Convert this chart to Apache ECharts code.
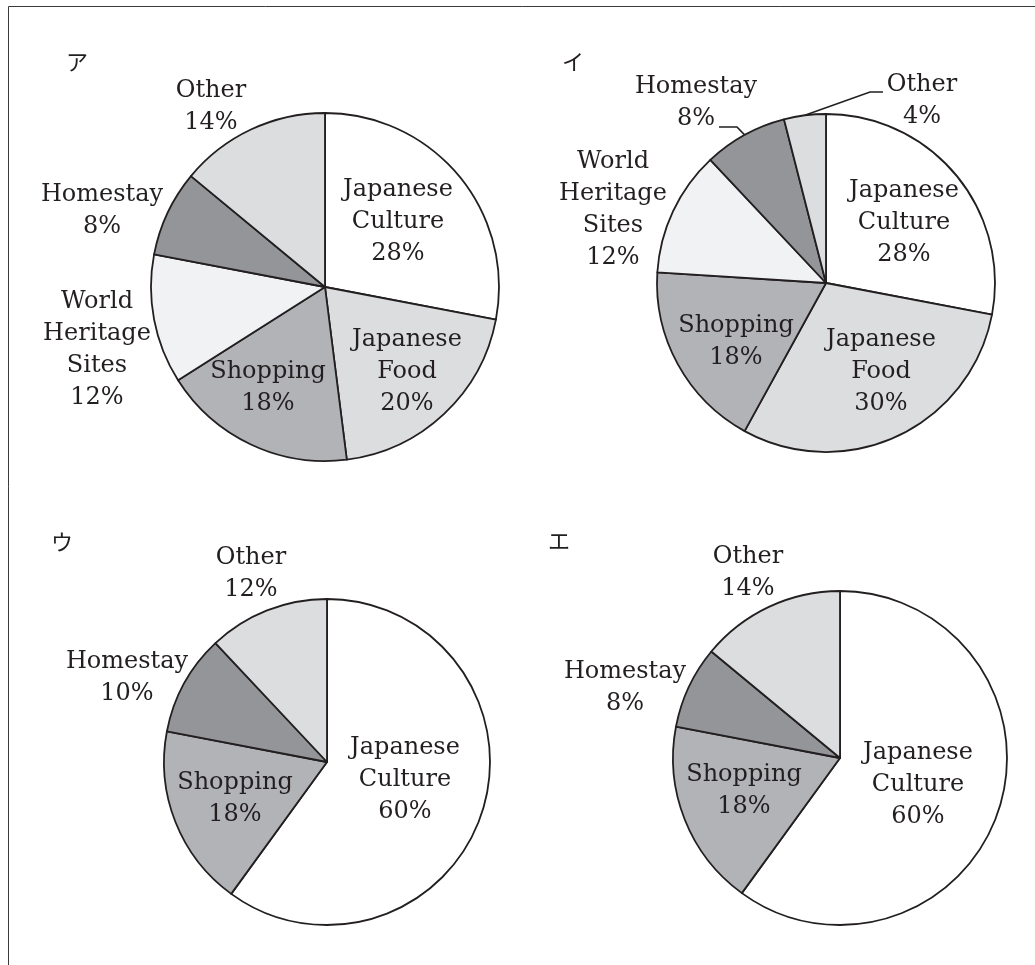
<!DOCTYPE html>
<html>
<head>
<meta charset="utf-8">
<script src="https://cdn.jsdelivr.net/npm/echarts@6/dist/echarts.min.js"></script>
<style>
html,body{margin:0;padding:0;background:#fff;}
#chart{width:1035px;height:965px;}
</style>
</head>
<body>
<div id="chart"></div>
<script>
// ---- data ----
const categories = ['Japanese Culture', 'Japanese Food', 'Shopping', 'World Heritage Sites', 'Homestay', 'Other'];
const panelTitles = ['ア', 'イ', 'ウ', 'エ'];
const valuesA = [28, 20, 18, 12, 8, 14];
const valuesI = [28, 30, 18, 12, 8, 4];
const valuesU = [60, null, 18, null, 10, 12];
const valuesE = [60, null, 18, null, 8, 14];
const panelValues = [valuesA, valuesI, valuesU, valuesE];

// ---- layout / style ----
const sliceColors = ['#ffffff', '#dcdddf', '#b2b3b6', '#f1f2f4', '#939598', '#dcdddf'];
const panelCenters = [[325, 287], [826, 283], [327, 762], [840, 758]];
const panelRadii = [174, 169, 163, 167];
const titlePos = [[77, 62], [573, 62], [62, 542], [559, 541]];
// label centre offsets from pie centre, per category index
const labelOffsets = [
  {0: [73, -65], 1: [82, 85], 2: [-57, 101], 3: [-228, 63], 4: [-223, -76], 5: [-114, -180]},
  {0: [78, -60], 1: [55, 89], 2: [-90, 59], 3: [-213, -73], 4: [-130, -180], 5: [96, -182]},
  {0: [78, 18], 2: [-92, 37], 4: [-200, -84], 5: [-76, -188]},
  {0: [78, 27], 2: [-96, 33], 4: [-215, -70], 5: [-92, -185]}
];
const insideCats = [[0, 1, 2], [0, 1, 2], [0, 2], [0, 2]];
// leader lines (panel イ): elbow and end point, as offsets from the label centre
const leaders = {1: {4: [[41, 24], [23, 24]], 5: [[-52, -9], [-39, -9]]}};

const INK = '#231f20';
const FONT = '"DejaVu Serif", "Liberation Serif", serif';

const series = panelValues.map(function (vals, p) {
  const data = [];
  vals.forEach(function (v, c) {
    if (v == null) return;
    const inside = insideCats[p].indexOf(c) >= 0;
    const hasLeader = !!(leaders[p] && leaders[p][c]);
    data.push({
      name: categories[c],
      value: v,
      cat: c,
      itemStyle: {color: sliceColors[c]},
      label: {position: inside ? 'inside' : 'outside'},
      labelLine: {show: hasLeader, length: 10, length2: 10,
        lineStyle: {color: INK, width: 1.6}}
    });
  });
  return {
    type: 'pie',
    center: panelCenters[p],
    radius: panelRadii[p],
    startAngle: 90,
    clockwise: true,
    avoidLabelOverlap: false,
    animation: false,
    silent: true,
    itemStyle: {borderColor: INK, borderWidth: 1.8},
    label: {
      show: true,
      color: INK,
      fontFamily: FONT,
      fontSize: 24,
      lineHeight: 32,
      align: 'center',
      formatter: function (prm) {
        return prm.name.split(' ').join('\n') + '\n' + prm.value + '%';
      }
    },
    labelLayout: function (prm) {
      const item = series[p].data[prm.dataIndex];
      const off = labelOffsets[p][item.cat];
      const cx = panelCenters[p][0] + off[0];
      const cy = panelCenters[p][1] + off[1];
      const res = {x: cx, y: cy, align: 'center', verticalAlign: 'middle'};
      const ld = leaders[p] && leaders[p][item.cat];
      if (ld && prm.labelLinePoints) {
        const start = prm.labelLinePoints[0];
        res.labelLinePoints = [
          [start[0], start[1]],
          [cx + ld[0][0], cy + ld[0][1]],
          [cx + ld[1][0], cy + ld[1][1]]
        ];
      }
      return res;
    },
    data: data
  };
});

const graphics = [{
  type: 'rect',
  shape: {x: 8.5, y: 6.5, width: 1200, height: 1200},
  style: {fill: 'none', stroke: '#3a3a3a', lineWidth: 1},
  silent: true
}];
panelTitles.forEach(function (t, i) {
  graphics.push({
    type: 'text',
    x: titlePos[i][0], y: titlePos[i][1],
    style: {text: t, fill: INK, font: '22px "Noto Sans CJK JP"',
      textAlign: 'center', textVerticalAlign: 'middle'},
    silent: true
  });
});

const chart = echarts.init(document.getElementById('chart'), null, {renderer: 'canvas'});
chart.setOption({
  backgroundColor: '#ffffff',
  animation: false,
  graphic: graphics,
  series: series
});
</script>
</body>
</html>
